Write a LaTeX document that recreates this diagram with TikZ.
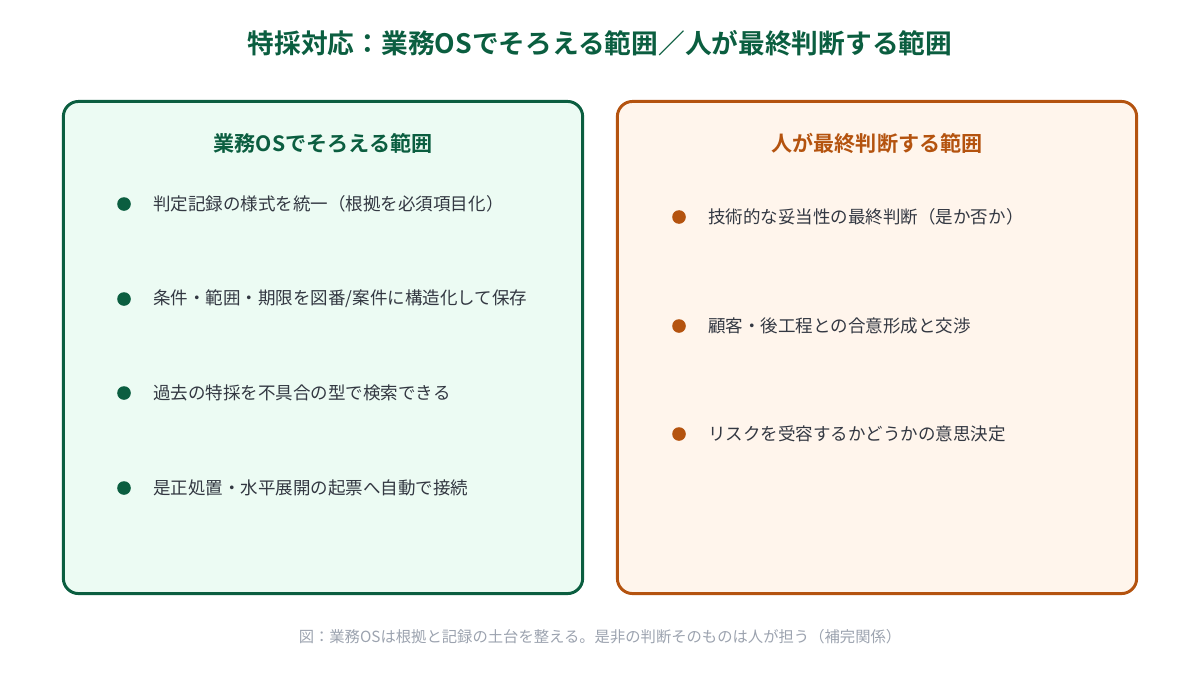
\documentclass[tikz,border=0pt]{standalone}
\usepackage{fontspec}
\setmainfont{Noto Sans CJK JP}[BoldFont={Noto Sans CJK JP Bold}]
\usepackage{tikz}
\usetikzlibrary{positioning}
\definecolor{osgreen}{HTML}{0B5E40}
\definecolor{osfill}{HTML}{ECFBF3}
\definecolor{huorange}{HTML}{B4530F}
\definecolor{hufill}{HTML}{FFF5EC}
\definecolor{itemtext}{HTML}{333842}
\definecolor{capgray}{HTML}{9CA3AF}

\begin{document}
\begin{tikzpicture}[x=0.025cm, y=-0.025cm,
  panel/.style={draw, rounded corners=0.38cm, line width=2.1pt,
    minimum width=12.98cm, minimum height=12.3cm},
  dot/.style={circle, fill, inner sep=0pt, minimum size=0.34cm},
  item/.style={anchor=west, inner sep=0pt, text=itemtext, font=\fontsize{12.45}{15}\selectfont},
  heading/.style={font=\bfseries\fontsize{15}{18}\selectfont}]
\useasboundingbox (0,0) rectangle (1200,696);

\node (title) [text=osgreen, font=\bfseries\fontsize{19}{22}\selectfont] at (600,43)
  {特採対応：業務OSでそろえる範囲／人が最終判断する範囲};

% left panel
\node (os) [panel, draw=osgreen, fill=osfill] at (323,347.5) {};
\node (osTitle) [heading, text=osgreen] at (323,143) {業務OSでそろえる範囲};
\node (osDotA) [dot, osgreen] at (124,204) {};
\node (osA) [item, right=0.55cm of osDotA] {判定記録の様式を統一（根拠を必須項目化）};
\node (osDotB) [dot, osgreen] at (124,299) {};
\node (osB) [item, right=0.55cm of osDotB] {条件・範囲・期限を図番/案件に構造化して保存};
\node (osDotC) [dot, osgreen] at (124,393) {};
\node (osC) [item, right=0.55cm of osDotC] {過去の特採を不具合の型で検索できる};
\node (osDotD) [dot, osgreen] at (124,488) {};
\node (osD) [item, right=0.55cm of osDotD] {是正処置・水平展開の起票へ自動で接続};

% right panel
\node (hu) [panel, draw=huorange, fill=hufill] at (877,347.5) {};
\node (huTitle) [heading, text=huorange] at (877,143) {人が最終判断する範囲};
\node (huDotA) [dot, huorange] at (679,217) {};
\node (huA) [item, right=0.55cm of huDotA] {技術的な妥当性の最終判断（是か否か）};
\node (huDotB) [dot, huorange] at (679,326) {};
\node (huB) [item, right=0.55cm of huDotB] {顧客・後工程との合意形成と交渉};
\node (huDotC) [dot, huorange] at (679,434) {};
\node (huC) [item, right=0.55cm of huDotC] {リスクを受容するかどうかの意思決定};

\node (caption) [text=capgray, font=\fontsize{10.9}{13}\selectfont] at (600,637)
  {図：業務OSは根拠と記録の土台を整える。是非の判断そのものは人が担う（補完関係）};
\end{tikzpicture}
\end{document}
